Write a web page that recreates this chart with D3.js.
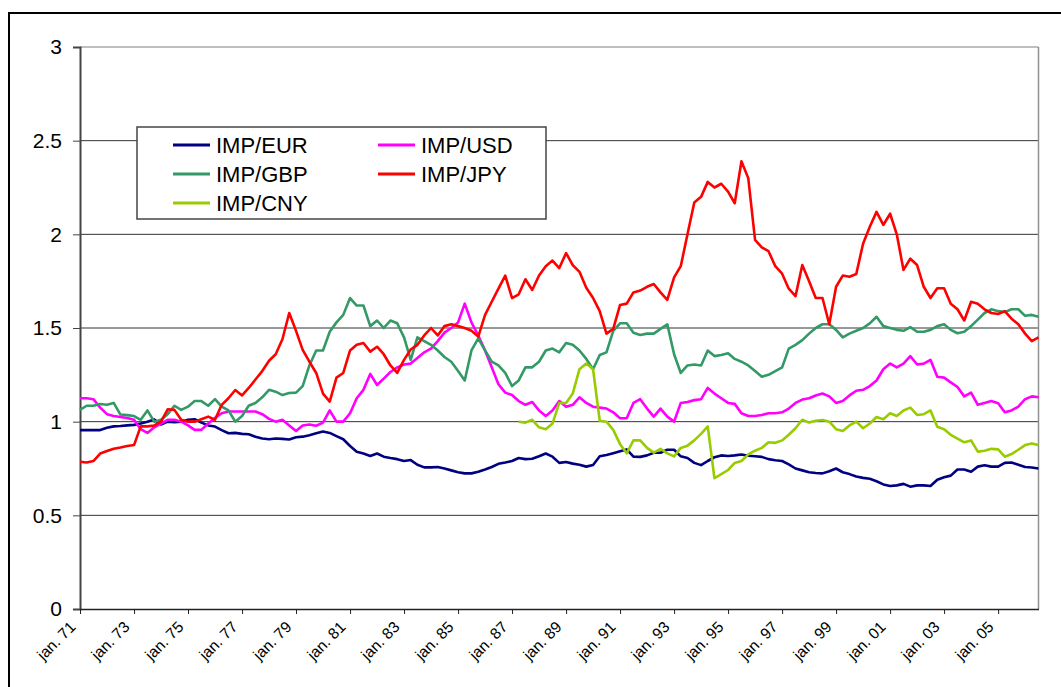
<!DOCTYPE html>
<html>
<head>
<meta charset="utf-8">
<script src="https://cdn.jsdelivr.net/npm/d3@7"></script>
<style>
body{margin:0;background:#fff}
svg{display:block;font-family:Arial,"Liberation Sans",sans-serif}
</style>
</head>
<body>
<svg id="chart" width="1061" height="687"></svg>
<script>
// quarterly readings, jan. 71 .. jul. 06
var seriesNames = ['IMP/EUR','IMP/USD','IMP/GBP','IMP/JPY','IMP/CNY']
var seriesColors = ['#000080','#ff00ff','#339966','#ff0000','#99cc00']
var tickYears = [1971,1973,1975,1977,1979,1981,1983,1985,1987,1989,1991,1993,1995,1997,1999,2001,2003,2005]
var yTicks = [0,0.5,1,1.5,2,2.5,3]

var eur = [0.955,0.955,0.955,0.955,0.968,0.975,0.977,0.98,0.983,0.99,
	1.0,1.012,0.985,1.0,0.997,1.0,1.01,1.013,0.995,0.98,
	0.974,0.955,0.938,0.94,0.935,0.933,0.92,0.91,0.906,0.91,
	0.908,0.905,0.917,0.92,0.928,0.938,0.947,0.94,0.923,0.906,
	0.87,0.84,0.83,0.817,0.83,0.813,0.806,0.8,0.79,0.795,
	0.77,0.756,0.756,0.758,0.75,0.74,0.73,0.724,0.724,0.733,
	0.745,0.758,0.775,0.782,0.79,0.806,0.8,0.802,0.815,0.83,
	0.813,0.78,0.785,0.776,0.77,0.76,0.769,0.815,0.822,0.832,
	0.842,0.852,0.813,0.812,0.82,0.834,0.834,0.85,0.85,0.815,
	0.806,0.78,0.768,0.79,0.81,0.82,0.817,0.82,0.825,0.818,
	0.815,0.812,0.8,0.794,0.79,0.772,0.75,0.74,0.73,0.726,
	0.724,0.735,0.75,0.73,0.72,0.707,0.7,0.695,0.682,0.665,
	0.657,0.66,0.668,0.653,0.66,0.66,0.657,0.69,0.703,0.712,
	0.745,0.745,0.733,0.76,0.767,0.76,0.76,0.78,0.782,0.77,
	0.758,0.755,0.75]

var usd = [1.125,1.125,1.12,1.075,1.04,1.03,1.025,1.02,1.01,0.96,
	0.94,0.97,0.99,1.01,1.01,1.0,0.98,0.956,0.956,0.99,
	1.02,1.045,1.054,1.054,1.054,1.054,1.054,1.04,1.015,1.0,
	1.01,0.98,0.95,0.98,0.985,0.978,0.995,1.06,1.0,1.0,
	1.045,1.125,1.17,1.255,1.196,1.23,1.265,1.29,1.305,1.31,
	1.34,1.37,1.39,1.43,1.475,1.5,1.53,1.63,1.53,1.46,
	1.38,1.29,1.2,1.155,1.142,1.11,1.09,1.105,1.06,1.03,
	1.06,1.11,1.08,1.09,1.13,1.1,1.08,1.075,1.07,1.05,
	1.018,1.018,1.1,1.12,1.07,1.027,1.07,1.027,1.0,1.1,
	1.105,1.115,1.12,1.18,1.15,1.125,1.1,1.095,1.045,1.03,
	1.03,1.036,1.045,1.045,1.05,1.07,1.1,1.118,1.125,1.14,
	1.15,1.135,1.1,1.11,1.14,1.165,1.17,1.19,1.22,1.28,
	1.31,1.29,1.31,1.35,1.305,1.31,1.33,1.24,1.235,1.21,
	1.185,1.135,1.155,1.09,1.1,1.11,1.098,1.05,1.06,1.08,
	1.12,1.135,1.13]

var gbp = [1.063,1.085,1.085,1.094,1.09,1.1,1.038,1.035,1.03,1.01,
	1.06,1.0,1.01,1.04,1.085,1.063,1.08,1.11,1.11,1.085,
	1.12,1.08,1.06,1.0,1.03,1.085,1.1,1.13,1.17,1.16,
	1.142,1.153,1.155,1.19,1.3,1.38,1.38,1.48,1.53,1.57,
	1.66,1.62,1.62,1.51,1.54,1.5,1.54,1.525,1.45,1.33,
	1.45,1.43,1.41,1.38,1.345,1.32,1.27,1.22,1.38,1.445,
	1.38,1.32,1.3,1.26,1.19,1.22,1.29,1.29,1.32,1.38,
	1.39,1.37,1.42,1.41,1.38,1.335,1.28,1.356,1.37,1.485,
	1.525,1.525,1.475,1.463,1.47,1.47,1.495,1.52,1.36,1.26,
	1.3,1.305,1.3,1.38,1.35,1.356,1.365,1.335,1.32,1.3,
	1.27,1.24,1.25,1.27,1.29,1.39,1.41,1.435,1.47,1.5,
	1.52,1.52,1.49,1.45,1.47,1.485,1.5,1.525,1.56,1.51,
	1.5,1.49,1.485,1.505,1.48,1.48,1.49,1.51,1.52,1.49,
	1.472,1.48,1.51,1.545,1.58,1.6,1.59,1.585,1.6,1.6,
	1.565,1.57,1.56]

var jpy = [0.786,0.782,0.79,0.83,0.843,0.855,0.862,0.87,0.875,0.975,
	0.975,0.98,1.0,1.066,1.063,1.01,1.0,1.0,1.013,1.027,
	1.01,1.09,1.125,1.169,1.14,1.18,1.225,1.27,1.325,1.36,
	1.44,1.58,1.485,1.383,1.32,1.26,1.15,1.107,1.235,1.26,
	1.38,1.41,1.42,1.374,1.4,1.36,1.3,1.26,1.33,1.385,
	1.41,1.46,1.5,1.46,1.51,1.52,1.51,1.5,1.485,1.454,
	1.57,1.64,1.71,1.78,1.66,1.68,1.76,1.703,1.78,1.83,
	1.86,1.82,1.9,1.836,1.8,1.715,1.66,1.59,1.47,1.495,
	1.623,1.63,1.69,1.7,1.72,1.735,1.69,1.65,1.77,1.83,
	2.0,2.17,2.2,2.28,2.25,2.27,2.228,2.166,2.39,2.3,
	1.97,1.93,1.91,1.83,1.79,1.71,1.67,1.836,1.75,1.66,
	1.66,1.52,1.72,1.78,1.774,1.788,1.95,2.04,2.12,2.05,
	2.11,2.0,1.81,1.87,1.836,1.72,1.66,1.712,1.712,1.63,
	1.6,1.54,1.64,1.63,1.6,1.58,1.575,1.59,1.55,1.52,
	1.47,1.43,1.45]

// CNY only starts in april 87 (quarter 65)
var cnyFirst = 65
var cny = [1.0,0.995,1.01,0.97,0.96,0.99,1.1,1.1,1.15,1.28,
	1.31,1.28,1.005,1.0,0.956,0.88,0.831,0.9,0.9,0.86,
	0.835,0.855,0.831,0.815,0.86,0.872,0.9,0.935,0.975,0.698,
	0.72,0.742,0.78,0.79,0.825,0.845,0.86,0.89,0.887,0.9,
	0.93,0.965,1.01,0.995,1.005,1.009,1.0,0.96,0.95,0.98,
	1.0,0.965,0.99,1.025,1.013,1.045,1.03,1.06,1.075,1.036,
	1.04,1.06,0.973,0.96,0.93,0.91,0.89,0.9,0.84,0.845,
	0.855,0.852,0.813,0.827,0.85,0.875,0.884,0.875]

var quarters = d3.timeMonth.every(3).range(new Date(1971,0,1), new Date(2006,9,1))

var svg = d3.select('svg#chart')
var plotLeft = 80, plotRight = 1038.5, plotTop = 47, plotBottom = 609

var x = d3.scaleTime().domain([quarters[0], quarters[quarters.length-1]]).range([plotLeft, plotRight])
var y = d3.scaleLinear().domain([0,3]).range([plotBottom, plotTop])

// outer frame
svg.append('rect')
	.attr('x',9).attr('y',13).attr('width',1200).attr('height',1000)
	.attr('fill','none').attr('stroke','#000').attr('stroke-width',2)

// grid
svg.append('g').selectAll('line')
	.data(yTicks.slice(1))
	.enter()
	.append('line')
	.attr('x1',plotLeft).attr('x2',plotRight)
	.attr('y1',(d) => y(d)).attr('y2',(d) => y(d))
	.attr('stroke',(d) => d == 3 ? '#808080' : '#333')
	.attr('stroke-width',1)

// right side of plot area
svg.append('line')
	.attr('x1',plotRight).attr('x2',plotRight).attr('y1',plotTop).attr('y2',plotBottom)
	.attr('stroke','#909090').attr('stroke-width',1.5)

// y axis
var yAxis = svg.append('g')
	.attr('transform','translate(' + plotLeft + ',0)')
	.call(d3.axisLeft(y).tickValues(yTicks).tickSize(7).tickPadding(11).tickFormat(d3.format('')))
yAxis.select('.domain').attr('stroke','#444').attr('stroke-width',2)
yAxis.selectAll('.tick line').attr('stroke','#444')
yAxis.selectAll('text').attr('font-size',21).attr('fill','#000')
	.attr('font-family','Arial, "Liberation Sans", sans-serif')

// x axis
var tickDates = tickYears.map((yr) => new Date(yr,0,1))
var xAxis = svg.append('g')
	.attr('transform','translate(0,' + plotBottom + ')')
	.call(d3.axisBottom(x).tickValues(tickDates).tickSize(5).tickSizeOuter(0)
		.tickFormat((d) => 'jan. ' + d3.timeFormat('%y')(d)))
xAxis.select('.domain').attr('stroke','#222').attr('stroke-width',1.5)
xAxis.selectAll('.tick line').attr('stroke','#222')
xAxis.selectAll('text')
	.attr('font-size',15.5).attr('fill','#000')
	.attr('font-family','Arial, "Liberation Sans", sans-serif')
	.attr('text-anchor','end')
	.attr('x',0).attr('y',0).attr('dy',0)
	.attr('transform','translate(-4,19) rotate(-45)')

// series
var allSeries = [eur, usd, gbp, jpy, cny]
var line = d3.line()
	.defined((d) => d.v != null)
	.x((d) => x(d.date))
	.y((d) => y(d.v))

allSeries.forEach(function(values, i){
	var offset = (i == 4) ? cnyFirst : 0
	var pts = values.map((v, k) => ({date: quarters[k + offset], v: v}))
	svg.append('path')
		.datum(pts)
		.attr('d', line)
		.attr('fill','none')
		.attr('stroke', seriesColors[i])
		.attr('stroke-width', 2.6)
		.attr('stroke-linejoin','round')
})

// legend
var legend = svg.append('g')
legend.append('rect')
	.attr('x',137).attr('y',127).attr('width',409).attr('height',92)
	.attr('fill','#fff').attr('stroke','#444').attr('stroke-width',1.5)

// excel order: fills rows left to right
var legendPos = [[173,145],[378,145],[173,174],[378,174],[173,203]]
var items = legend.selectAll('g.item')
	.data(seriesNames)
	.enter()
	.append('g')
	.attr('class','item')
	.attr('transform',(d,i) => 'translate(' + legendPos[i][0] + ',' + legendPos[i][1] + ')')
items.append('line')
	.attr('x1',0).attr('x2',37).attr('y1',0).attr('y2',0)
	.attr('stroke',(d,i) => seriesColors[i]).attr('stroke-width',3)
items.append('text')
	.attr('x',43).attr('dy','0.35em')
	.attr('font-size',22)
	.text((d) => d)
</script>
</body>
</html>
